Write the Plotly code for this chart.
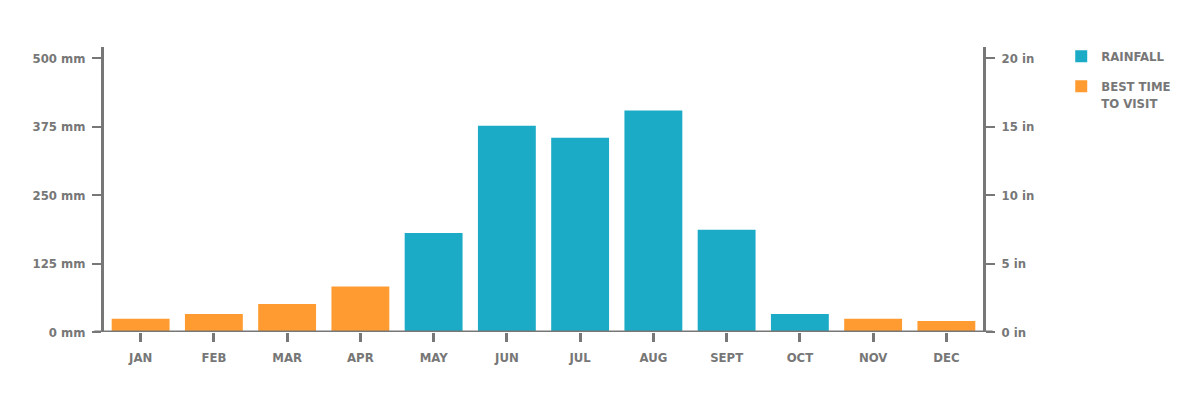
import plotly.graph_objects as go

months = ["JAN", "FEB", "MAR", "APR", "MAY", "JUN", "JUL", "AUG", "SEPT", "OCT", "NOV", "DEC"]
rainfall_mm = [24, 33, 51, 83, 181, 377, 355, 405, 187, 33, 24, 20]
best_time = [True, True, True, True, False, False, False, False, False, False, True, True]
mm_ticks = [0, 125, 250, 375, 500]
in_ticks = [0, 5, 10, 15, 20]
MM_PER_IN = 25
Y_MAX_MM = 521

TEAL = "#1CABC6"
ORANGE = "#FF9B31"
GRAY = "#777777"
FONT = "DejaVu Sans Condensed, Liberation Sans Narrow, Arial Narrow, sans-serif"

rain_vals = [v if not b else None for v, b in zip(rainfall_mm, best_time)]
best_vals = [v if b else None for v, b in zip(rainfall_mm, best_time)]

fig = go.Figure()
fig.add_trace(go.Bar(x=months, y=rain_vals, name="RAINFALL", legendgroup="a",
                     marker=dict(color=TEAL, line=dict(width=0))))
fig.add_trace(go.Bar(x=months, y=best_vals, name="BEST TIME<br>TO VISIT", legendgroup="b",
                     marker=dict(color=ORANGE, line=dict(width=0))))
# invisible trace to carry the inch axis
fig.add_trace(go.Scatter(x=months, y=[v / MM_PER_IN for v in rainfall_mm], yaxis="y2", mode="markers",
                         marker=dict(opacity=0), showlegend=False, hoverinfo="skip"))

tf = dict(size=13, color=GRAY, family=FONT, weight="bold")

fig.update_layout(
    width=1200, height=400,
    margin=dict(l=104, r=217, t=47, b=68),
    paper_bgcolor="white", plot_bgcolor="white",
    barmode="overlay", bargap=0.21,
    font=tf,
    showlegend=True,
    legend=dict(x=1.089, y=1.02, xanchor="left", yanchor="top", font=tf, valign="top",
                traceorder="grouped", tracegroupgap=10, itemwidth=30, bgcolor="rgba(0,0,0,0)"),
    xaxis=dict(type="category", range=[-0.5, 11.5], showline=False, showgrid=False, zeroline=False,
               ticks="outside", ticklen=9, tickwidth=3, tickcolor=GRAY, tickfont=tf, ticklabelstandoff=4),
    yaxis=dict(range=[0, Y_MAX_MM], tickvals=mm_ticks, ticktext=[f"{t} mm" for t in mm_ticks],
               showline=True, linewidth=3, linecolor=GRAY, showgrid=False, zeroline=False,
               ticks="outside", ticklen=9, tickwidth=2, tickcolor=GRAY, ticklabelstandoff=4, tickfont=tf),
    yaxis2=dict(range=[0, Y_MAX_MM / MM_PER_IN], tickvals=in_ticks, ticktext=[f"{t} in" for t in in_ticks],
                overlaying="y", side="right", showline=True, linewidth=3, linecolor=GRAY, showgrid=False,
                zeroline=False, ticks="outside", ticklen=9, tickwidth=2, tickcolor=GRAY, ticklabelstandoff=4,
                tickfont=tf),
    shapes=[dict(type="line", xref="paper", yref="y", x0=-0.011, x1=1.011, y0=0, y1=0,
                 line=dict(color=GRAY, width=3), layer="above")],
)

fig.write_html("out.html", config={"displayModeBar": False},
               post_script="document.body.style.margin='0';")
